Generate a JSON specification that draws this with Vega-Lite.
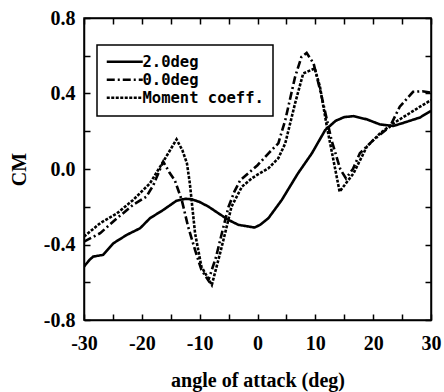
{
  "$schema": "https://vega.github.io/schema/vega-lite/v6.json",
  "autosize": "none",
  "width": 347,
  "height": 302,
  "padding": {"left": 84, "top": 18, "right": 13, "bottom": 72},
  "background": "white",
  "config": {
    "view": {"stroke": "black", "strokeWidth": 1.5},
    "axis": {
      "grid": false,
      "domainColor": "black",
      "domainWidth": 1.5,
      "tickColor": "black",
      "tickWidth": 1.5,
      "tickSize": -6,
      "labelFlush": false,
      "labelFont": "Liberation Serif",
      "labelFontWeight": "bold",
      "labelFontSize": 20,
      "labelColor": "black",
      "titleFont": "Liberation Serif",
      "titleFontWeight": "bold",
      "titleColor": "black"
    }
  },
  "data": {
    "values": [
      {"series": "2.0deg", "x": -30, "y": -0.517},
      {"series": "2.0deg", "x": -29, "y": -0.48},
      {"series": "2.0deg", "x": -28.4, "y": -0.464},
      {"series": "2.0deg", "x": -26.7, "y": -0.455},
      {"series": "2.0deg", "x": -24.9, "y": -0.393},
      {"series": "2.0deg", "x": -22.6, "y": -0.349},
      {"series": "2.0deg", "x": -20.3, "y": -0.314},
      {"series": "2.0deg", "x": -18.6, "y": -0.261},
      {"series": "2.0deg", "x": -16.3, "y": -0.217},
      {"series": "2.0deg", "x": -14, "y": -0.168},
      {"series": "2.0deg", "x": -12.5, "y": -0.158},
      {"series": "2.0deg", "x": -11.4, "y": -0.16},
      {"series": "2.0deg", "x": -10, "y": -0.175},
      {"series": "2.0deg", "x": -8.5, "y": -0.199},
      {"series": "2.0deg", "x": -6.5, "y": -0.24},
      {"series": "2.0deg", "x": -5, "y": -0.27},
      {"series": "2.0deg", "x": -3.3, "y": -0.296},
      {"series": "2.0deg", "x": -1.5, "y": -0.305},
      {"series": "2.0deg", "x": -0.5, "y": -0.31},
      {"series": "2.0deg", "x": 0.5, "y": -0.295},
      {"series": "2.0deg", "x": 1.9, "y": -0.26},
      {"series": "2.0deg", "x": 4.2, "y": -0.164},
      {"series": "2.0deg", "x": 7, "y": -0.023},
      {"series": "2.0deg", "x": 9.4, "y": 0.083},
      {"series": "2.0deg", "x": 11.7, "y": 0.206},
      {"series": "2.0deg", "x": 13.5, "y": 0.255},
      {"series": "2.0deg", "x": 15, "y": 0.275},
      {"series": "2.0deg", "x": 16.6, "y": 0.28},
      {"series": "2.0deg", "x": 18.9, "y": 0.263},
      {"series": "2.0deg", "x": 21.2, "y": 0.236},
      {"series": "2.0deg", "x": 23.5, "y": 0.228},
      {"series": "2.0deg", "x": 25.8, "y": 0.25},
      {"series": "2.0deg", "x": 28.1, "y": 0.273},
      {"series": "2.0deg", "x": 30, "y": 0.308},

      {"series": "0.0deg", "x": -30, "y": -0.385},
      {"series": "0.0deg", "x": -27.2, "y": -0.34},
      {"series": "0.0deg", "x": -24.3, "y": -0.261},
      {"series": "0.0deg", "x": -21.5, "y": -0.19},
      {"series": "0.0deg", "x": -19.2, "y": -0.146},
      {"series": "0.0deg", "x": -18, "y": -0.085},
      {"series": "0.0deg", "x": -16.3, "y": 0.039},
      {"series": "0.0deg", "x": -15.2, "y": -0.02},
      {"series": "0.0deg", "x": -14.3, "y": -0.06},
      {"series": "0.0deg", "x": -13.1, "y": -0.164},
      {"series": "0.0deg", "x": -12, "y": -0.305},
      {"series": "0.0deg", "x": -10.8, "y": -0.429},
      {"series": "0.0deg", "x": -9.7, "y": -0.534},
      {"series": "0.0deg", "x": -8.5, "y": -0.59},
      {"series": "0.0deg", "x": -7.2, "y": -0.47},
      {"series": "0.0deg", "x": -6, "y": -0.32},
      {"series": "0.0deg", "x": -5, "y": -0.2},
      {"series": "0.0deg", "x": -4, "y": -0.12},
      {"series": "0.0deg", "x": -3, "y": -0.06},
      {"series": "0.0deg", "x": -1.5, "y": -0.02},
      {"series": "0.0deg", "x": 0, "y": 0.02},
      {"series": "0.0deg", "x": 1.9, "y": 0.083},
      {"series": "0.0deg", "x": 3.6, "y": 0.136},
      {"series": "0.0deg", "x": 4.8, "y": 0.259},
      {"series": "0.0deg", "x": 6.5, "y": 0.488},
      {"series": "0.0deg", "x": 7.6, "y": 0.594},
      {"series": "0.0deg", "x": 8.5, "y": 0.615},
      {"series": "0.0deg", "x": 9.7, "y": 0.559},
      {"series": "0.0deg", "x": 11.1, "y": 0.383},
      {"series": "0.0deg", "x": 12.8, "y": 0.153},
      {"series": "0.0deg", "x": 14.3, "y": 0.0},
      {"series": "0.0deg", "x": 15.3, "y": -0.05},
      {"series": "0.0deg", "x": 16.5, "y": 0.0},
      {"series": "0.0deg", "x": 17.7, "y": 0.083},
      {"series": "0.0deg", "x": 20, "y": 0.153},
      {"series": "0.0deg", "x": 22.9, "y": 0.224},
      {"series": "0.0deg", "x": 24.6, "y": 0.33},
      {"series": "0.0deg", "x": 26.9, "y": 0.409},
      {"series": "0.0deg", "x": 28.5, "y": 0.412},
      {"series": "0.0deg", "x": 30, "y": 0.404},

      {"series": "Moment coeff.", "x": -30, "y": -0.358},
      {"series": "Moment coeff.", "x": -27.2, "y": -0.287},
      {"series": "Moment coeff.", "x": -24.3, "y": -0.235},
      {"series": "Moment coeff.", "x": -21.5, "y": -0.164},
      {"series": "Moment coeff.", "x": -18.6, "y": -0.076},
      {"series": "Moment coeff.", "x": -16.3, "y": 0.039},
      {"series": "Moment coeff.", "x": -14, "y": 0.157},
      {"series": "Moment coeff.", "x": -13, "y": 0.1},
      {"series": "Moment coeff.", "x": -12.2, "y": 0.03},
      {"series": "Moment coeff.", "x": -11.7, "y": -0.076},
      {"series": "Moment coeff.", "x": -10.8, "y": -0.34},
      {"series": "Moment coeff.", "x": -9.7, "y": -0.517},
      {"series": "Moment coeff.", "x": -7.9, "y": -0.614},
      {"series": "Moment coeff.", "x": -6.5, "y": -0.45},
      {"series": "Moment coeff.", "x": -5.6, "y": -0.34},
      {"series": "Moment coeff.", "x": -4.5, "y": -0.2},
      {"series": "Moment coeff.", "x": -2.7, "y": -0.094},
      {"series": "Moment coeff.", "x": -1, "y": -0.05},
      {"series": "Moment coeff.", "x": 0, "y": -0.03},
      {"series": "Moment coeff.", "x": 1.9, "y": 0.004},
      {"series": "Moment coeff.", "x": 3.6, "y": 0.057},
      {"series": "Moment coeff.", "x": 4.8, "y": 0.136},
      {"series": "Moment coeff.", "x": 6.5, "y": 0.348},
      {"series": "Moment coeff.", "x": 7.9, "y": 0.506},
      {"series": "Moment coeff.", "x": 9.9, "y": 0.533},
      {"series": "Moment coeff.", "x": 10.8, "y": 0.436},
      {"series": "Moment coeff.", "x": 12, "y": 0.224},
      {"series": "Moment coeff.", "x": 14.2, "y": -0.12},
      {"series": "Moment coeff.", "x": 16.6, "y": -0.023},
      {"series": "Moment coeff.", "x": 18.9, "y": 0.118},
      {"series": "Moment coeff.", "x": 21.2, "y": 0.189},
      {"series": "Moment coeff.", "x": 23.5, "y": 0.242},
      {"series": "Moment coeff.", "x": 25.8, "y": 0.286},
      {"series": "Moment coeff.", "x": 28.1, "y": 0.33},
      {"series": "Moment coeff.", "x": 30, "y": 0.365}
    ]
  },
  "layer": [
    {
      "mark": {"type": "line", "color": "black", "strokeWidth": 2.6, "clip": true},
      "encoding": {
        "x": {
          "field": "x", "type": "quantitative",
          "scale": {"domain": [-30, 30], "nice": false},
          "axis": {
            "values": [-30, -25, -20, -15, -10, -5, 0, 5, 10, 15, 20, 25, 30],
            "labelExpr": "datum.value % 10 == 0 ? '' + datum.value : ''",
            "labelPadding": 19,
            "title": "angle of attack (deg)",
            "titleFontSize": 20,
            "titlePadding": 17
          }
        },
        "y": {
          "field": "y", "type": "quantitative",
          "scale": {"domain": [-0.8, 0.8], "nice": false},
          "axis": {
            "values": [-0.8, -0.6, -0.4, -0.2, 0, 0.2, 0.4, 0.6, 0.8],
            "labelExpr": "round(datum.value * 10) % 4 == 0 ? replace(format(datum.value, '.1f'), '−', '-') : ''",
            "labelPadding": 15,
            "title": "CM",
            "titleFontSize": 20,
            "titlePadding": 14
          }
        },
        "strokeDash": {
          "field": "series", "type": "nominal",
          "scale": {
            "domain": ["2.0deg", "0.0deg", "Moment coeff."],
            "range": [[1, 0], [8, 3, 2, 3], [3, 1.5]]
          },
          "legend": {
            "title": null,
            "orient": "none",
            "legendX": 13,
            "legendY": 27,
            "strokeColor": "black",
            "fillColor": "white",
            "padding": 9,
            "symbolType": "M-3.6,0H3.6",
            "symbolSize": 100,
            "symbolOffset": 11,
            "symbolStrokeWidth": 2.6,
            "symbolStrokeColor": "black",
            "symbolFillColor": "transparent",
            "labelFont": "DejaVu Sans Mono",
            "labelFontWeight": "bold",
            "labelFontSize": 15.5,
            "labelColor": "black",
            "labelOffset": 10,
            "rowPadding": 1,
            "encode": {"legend": {"update": {"strokeWidth": {"value": 1.5}}}}
          }
        }
      }
    },
    {
      "mark": {"type": "line", "opacity": 0},
      "encoding": {
        "x": {
          "field": "x", "type": "quantitative",
          "axis": {
            "orient": "top",
            "values": [-30, -25, -20, -15, -10, -5, 0, 5, 10, 15, 20, 25, 30],
            "labels": false,
            "title": null
          }
        },
        "y": {
          "field": "y", "type": "quantitative",
          "axis": {
            "orient": "right",
            "values": [-0.8, -0.6, -0.4, -0.2, 0, 0.2, 0.4, 0.6, 0.8],
            "labels": false,
            "title": null
          }
        },
        "detail": {"field": "series"}
      }
    }
  ],
  "resolve": {"axis": {"x": "independent", "y": "independent"}}
}
